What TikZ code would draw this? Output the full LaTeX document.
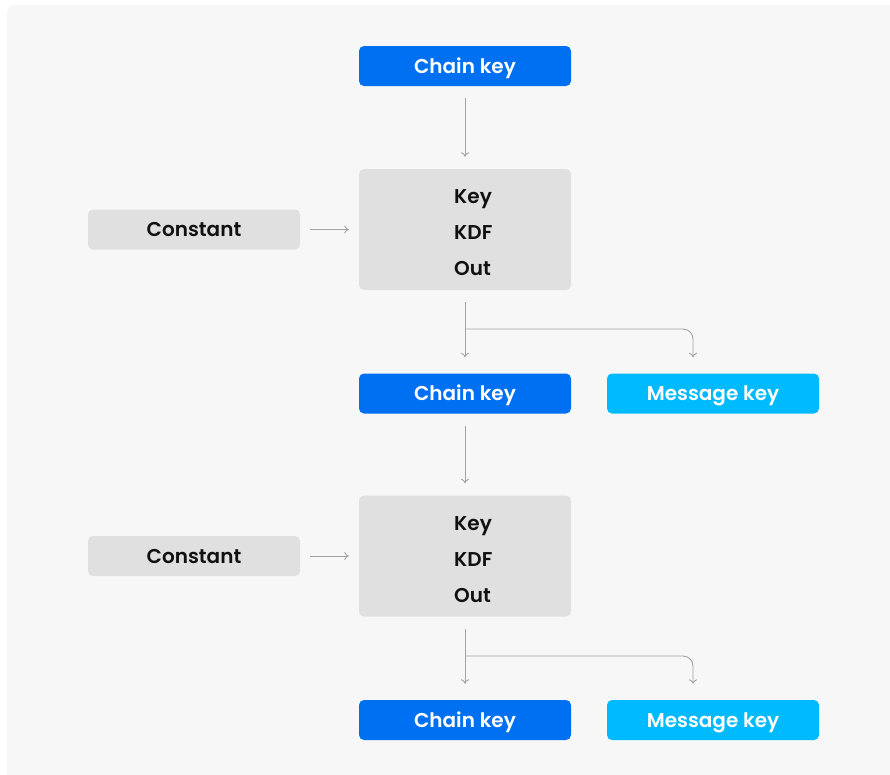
\documentclass[tikz,border=0pt]{standalone}
\usepackage{fontspec}
\setmainfont{Poppins}[BoldFont={Poppins SemiBold}]
\usetikzlibrary{arrows.meta}
\definecolor{panelbg}{HTML}{F7F7F7}
\definecolor{chainblue}{HTML}{0070F3}
\definecolor{msgblue}{HTML}{00BAFF}
\definecolor{boxgray}{HTML}{E0E0E0}
\definecolor{linegray}{HTML}{A3A3A3}
\definecolor{inkdark}{HTML}{111111}
\tikzset{
  keybox/.style={rounded corners=5pt, minimum width=212pt, minimum height=40pt,
    inner sep=0pt, font=\fontsize{20}{24}\selectfont\bfseries, text=white,
    text depth=0pt, text height=14pt},
  chainbox/.style={keybox, fill=chainblue},
  msgbox/.style={keybox, fill=msgblue},
  constbox/.style={keybox, fill=boxgray, text=inkdark},
  kdfbox/.style={rounded corners=5pt, fill=boxgray, minimum width=212pt,
    minimum height=121pt, inner sep=0pt},
  kdftext/.style={font=\fontsize{20}{24}\selectfont\bfseries, text=inkdark,
    anchor=west, inner sep=0pt, text depth=0pt, text height=14pt},
  flow/.style={draw=linegray, line width=0.9pt, -{To[length=4.5pt,width=8pt]}},
}
\begin{document}
\begin{tikzpicture}[x=1pt, y=-1pt]
\useasboundingbox (0,0) rectangle (890,774);
\fill[white] (0,0) rectangle (890,774);
\fill[panelbg, rounded corners=8pt] (7,5) rectangle (900,784);

% first round
\node[chainbox] (ck0) at (465,66) {Chain key};
\node[kdfbox] (kdf1) at (465,229.5) {};
\node[kdftext] (k1a) at (454,196) {Key};
\node[kdftext] (k1b) at (454,232) {KDF};
\node[kdftext] (k1c) at (454,268) {Out};
\node[constbox] (c1) at (194,229.5) {Constant};
\node[chainbox] (ck1) at (465,393.5) {Chain key};
\node[msgbox] (mk1) at (713,393.5) {Message key};

% second round
\node[kdfbox] (kdf2) at (465,556) {};
\node[kdftext] (k2a) at (454,523) {Key};
\node[kdftext] (k2b) at (454,559) {KDF};
\node[kdftext] (k2c) at (454,595) {Out};
\node[constbox] (c2) at (194,556) {Constant};
\node[chainbox] (ck2) at (465,720) {Chain key};
\node[msgbox] (mk2) at (713,720) {Message key};

\coordinate (b1) at (465,329);
\coordinate (b2) at (465,656);

% connectors
\draw[flow] ([yshift=-12pt]ck0.south) -- ([yshift=12pt]kdf1.north);
\draw[flow] ([xshift=10pt]c1.east) -- ([xshift=-10pt]kdf1.west);
\draw[flow] ([yshift=-12pt]kdf1.south) -- ([yshift=16pt]ck1.north);
\draw[flow, rounded corners=10pt] (b1) -| ([yshift=16pt]mk1.north -| 693,0);

\draw[flow] ([yshift=-12pt]ck1.south) -- ([yshift=12pt]kdf2.north);
\draw[flow] ([xshift=10pt]c2.east) -- ([xshift=-10pt]kdf2.west);
\draw[flow] ([yshift=-12pt]kdf2.south) -- ([yshift=16pt]ck2.north);
\draw[flow, rounded corners=10pt] (b2) -| ([yshift=16pt]mk2.north -| 693,0);
\end{tikzpicture}
\end{document}
